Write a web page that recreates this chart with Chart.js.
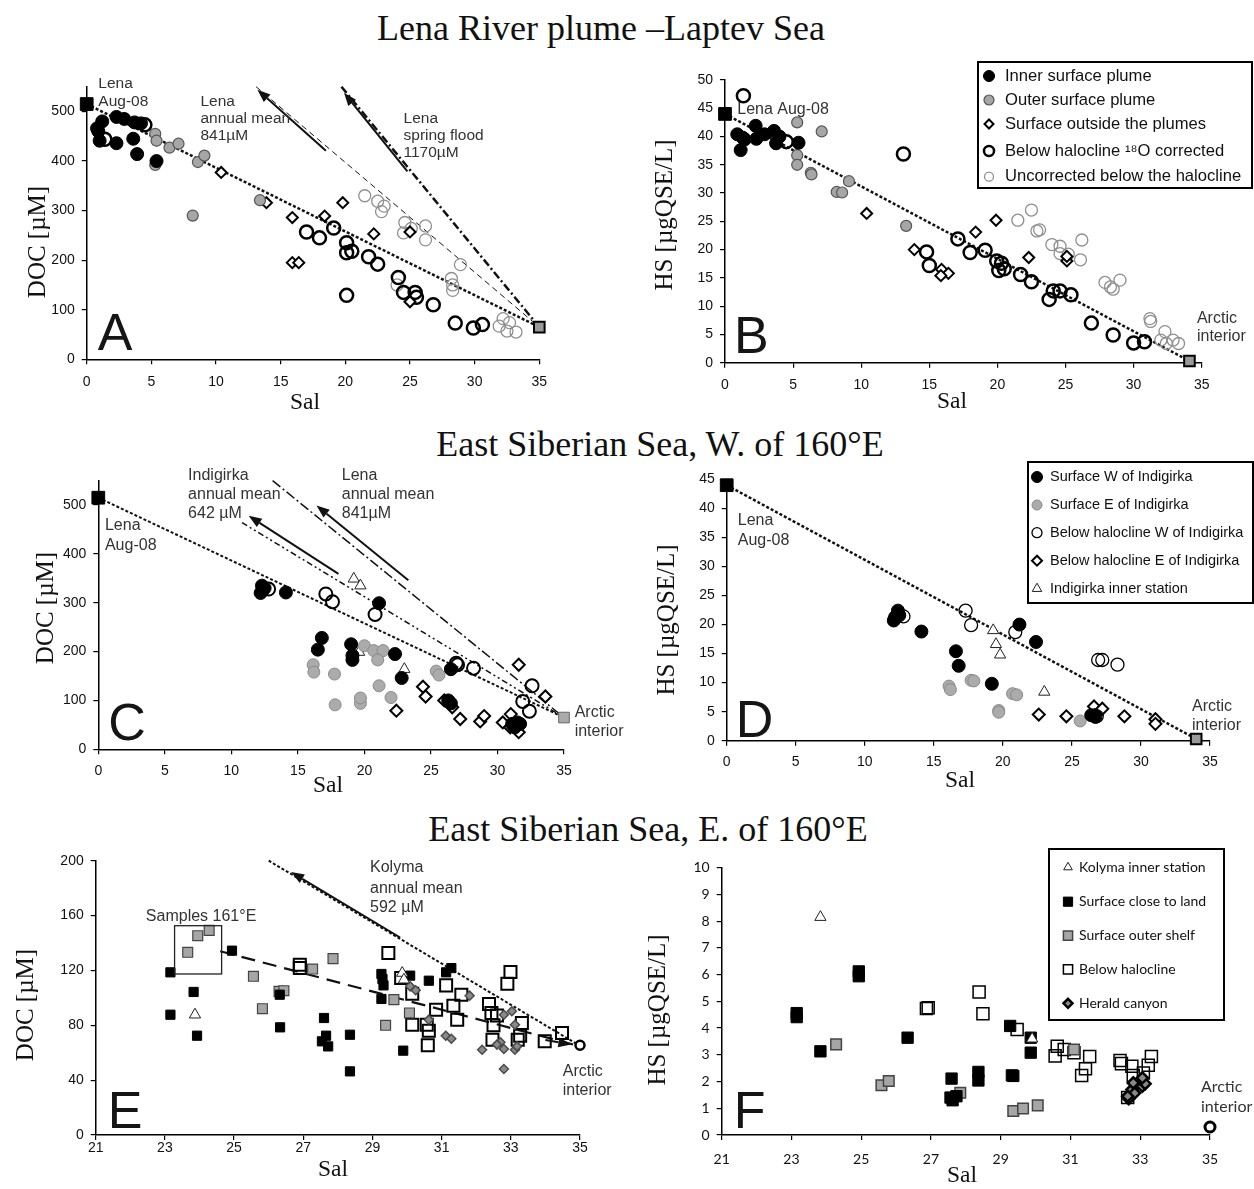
<!DOCTYPE html>
<html>
<head>
<meta charset="utf-8">
<title>DOC and HS vs salinity</title>
<script src="https://cdn.jsdelivr.net/npm/chart.js@4/dist/chart.umd.min.js"></script>
<style>
  body { margin: 0; background: #fff; width: 1254px; height: 1189px; position: relative; overflow: hidden; }
  .ttl { position: absolute; font-family: "Liberation Serif", "Times New Roman", serif; font-size: 36px; line-height: 1;
         color: #111; white-space: nowrap; transform: translate(-50%, -50%); }
  canvas { position: absolute; }
</style>
</head>
<body>
<div class="ttl" style="left:601px; top:28px">Lena River plume –Laptev Sea</div>
<div class="ttl" style="left:660px; top:444px">East Siberian Sea, W. of 160°E</div>
<div class="ttl" style="left:648px; top:829px">East Siberian Sea, E. of 160°E</div>
<canvas id="cA"></canvas>
<canvas id="cB"></canvas>
<canvas id="cC"></canvas>
<canvas id="cD"></canvas>
<canvas id="cE"></canvas>
<canvas id="cF"></canvas>
<script>
// ---- Panel A: DOC vs Sal, Lena plume ----
const aInner = [[0.8,466],[1.2,480],[1.0,441],[2.3,489],[2.9,485],[3.7,478],[4.2,476],[2.3,436],[3.6,445],[3.9,414],[5.4,400],[0.9,460]];
const aOuter = [[5.3,455],[5.4,441],[6.4,427],[7.1,435],[8.6,398],[9.1,411],[8.2,290],[13.4,321],[5.3,392]];
const aOutside = [[10.4,377],[13.9,316],[15.9,286],[18.4,289],[19.8,316],[22.2,253],[15.9,195],[16.4,195],[25.0,257],[25.0,116]];
const aBelow = [[1.4,444],[4.5,473],[17.0,257],[18.0,245],[19.1,265],[20.1,235],[20.1,215],[20.5,218],[21.8,207],[22.5,192],[20.1,129],
                [24.1,165],[24.5,135],[25.4,135],[25.5,125],[26.8,110],[28.5,73],[29.9,63],[30.6,70]];
const aUncorr = [[21.5,330],[22.5,319],[23.0,309],[22.8,298],[24.6,276],[24.5,255],[25.1,264],[26.2,269],[26.2,241],[28.9,191],[28.2,163],
                 [28.3,150],[28.3,139],[24.0,150],[31.9,67],[32.2,82],[32.7,74],[32.5,57],[33.2,55]];
const aLena = [[0,515]];
const aArctic = [[35,65]];
const aMix = [[0,515],[35,65]];
const aAnnual = [[13.1,550],[35,65]];
const aSpring = [[19.7,550],[35,65]];

// ---- Panel B: HS vs Sal, Lena plume ----
const bInner = [[0.9,40.4],[1.15,37.6],[1.45,39.5],[2.25,41.9],[2.3,39.6],[2.9,40.4],[3.6,41.0],[3.75,38.8],[4.0,40.0],[5.4,38.9],[1.3,39.8]];
const bOuter = [[5.3,42.5],[7.1,40.9],[5.3,36.7],[5.3,35.0],[6.3,33.6],[6.35,33.3],[9.1,32.1],[8.2,30.2],[8.6,30.1],[13.3,24.2]];
const bOutside = [[10.4,26.4],[13.9,20.0],[15.9,16.5],[16.4,15.8],[15.85,15.4],[18.4,23.1],[19.9,25.2],[22.3,18.6],[25.1,18.0],[25.1,18.8]];
const bBelow = [[1.35,47.2],[4.5,39.1],[13.1,36.9],[14.8,19.6],[15.0,17.2],[17.1,21.9],[18.0,19.5],[19.1,19.9],[19.95,18.0],[20.3,17.6],
                [20.1,16.3],[20.5,16.6],[21.7,15.6],[22.5,14.3],[23.8,11.2],[24.1,12.7],[24.6,12.7],[25.4,12.0],[26.9,7.0],[28.5,4.9],[30.0,3.5],[30.8,3.7]];
const bUncorr = [[21.5,25.2],[22.5,27.0],[22.9,23.3],[23.1,23.5],[24.0,20.9],[24.6,20.6],[24.6,19.3],[25.2,19.2],[26.2,21.7],[26.1,18.2],
                 [27.9,14.2],[28.3,13.4],[28.5,13.0],[29.0,14.6],[31.2,7.8],[31.25,7.3],[32.3,5.5],[32.0,4.0],[32.9,4.0],[33.3,3.4],[32.4,3.4]];
const bLena = [[0,44]];
const bArctic = [[34.1,0.3]];
const bMix = [[0,44],[34.1,0.3]];

// ---- Panel C: DOC vs Sal, ESS west of 160E ----
const cSurfW = [[12.3,335],[12.35,325],[12.5,330],[12.2,320],[14.1,321],[16.8,228],[16.5,204],[19.0,215],[19.1,192],[19.1,183],[21.1,299],
                [22.3,195],[22.8,146],[26.5,164],[26.3,100],[26.5,94],[31.5,55],[31.7,52],[31.3,45],[31.1,52]];
const cSurfE = [[16.15,173],[16.2,158],[17.75,154],[17.8,91],[19.7,94],[19.7,105],[20.0,212],[20.7,202],[21.4,202],[21.0,183],[21.1,130],
                [22.0,106],[25.4,160],[25.6,152]];
const cBelowW = [[12.8,328],[17.1,318],[17.6,302],[20.8,276],[26.9,176],[27.0,173],[28.2,166],[31.9,98],[32.4,78],[32.6,130]];
const cBelowE = [[31.6,173],[33.6,108],[24.4,128],[24.6,108],[22.4,79],[26.0,100],[26.6,86],[27.2,62],[28.7,57],[29.0,68],[30.4,55],
                 [31.0,72],[31.6,35],[30.95,45]];
const cInner = [[19.2,349],[19.7,335],[19.6,199],[23.0,164]];
const cLena = [[0,515]];
const cArctic = [[35,65]];
const cMix = [[0,515],[35,65]];
const cIndig = [[10.8,464],[35,65]];
const cAnnual = [[13.1,550],[35,65]];

// ---- Panel D: HS vs Sal, ESS west of 160E ----
const dSurfW = [[12.1,20.7],[12.2,21.3],[12.4,22.4],[12.5,21.6],[14.1,18.8],[16.6,15.4],[16.8,12.9],[19.2,9.8],[21.2,20.0],[22.4,17.0],[26.4,4.4],[26.7,4.1]];
const dSurfE = [[16.1,9.4],[16.2,8.8],[17.7,10.4],[17.9,10.3],[19.7,5.2],[19.7,4.9],[20.7,8.1],[21.0,7.9],[25.6,3.4]];
const dBelowW = [[12.8,21.4],[17.3,22.4],[17.7,19.9],[20.9,18.7],[26.9,13.9],[27.2,13.9],[28.3,13.1],[26.8,4.2]];
const dBelowE = [[22.6,4.5],[24.6,4.2],[26.6,5.9],[27.2,5.5],[28.8,4.2],[31.05,3.7],[31.05,2.9],[26.65,4.4]];
const dInner = [[19.3,19.0],[19.5,16.6],[19.8,14.8],[23.0,8.4]];
const dLena = [[0,44]];
const dArctic = [[34,0.3]];
const dMix = [[0,44],[34,0.3]];

// ---- Panel E: DOC vs Sal, ESS east of 160E ----
const eLand = [[23.16,118.6],[23.16,87.7],[23.83,104.3],[23.93,72.4],[24.94,134.4],[26.32,102.3],[26.33,78.5],[27.6,85.3],[27.66,72.4],
               [27.54,68.3],[27.72,64.6],[28.35,73.1],[28.35,46.4],[29.26,117.4],[29.29,113.7],[29.32,109.1],[29.26,99.2],[29.89,61.5],
               [30.09,116.2],[30.63,112.5],[31.13,118.6],[31.28,121.7]];
const eShelf = [[23.66,133.2],[23.95,145.3],[24.28,149.2],[25.56,115.7],[25.82,92.1],[26.3,104.7],[26.44,105.2],[27.27,121],[27.86,128.6],
                [29.38,80],[29.62,98.7],[30.07,89]];
const eBelow = [[26.9,124.2],[26.9,121.7],[29.46,132.7],[29.83,114.5],[30.15,103],[30.15,80.4],[30.63,76],[30.57,80.4],[30.6,65.4],
                [30.84,91.4],[31.13,109.1],[31.34,94.3],[31.45,84.1],[31.57,102.3],[32.37,95.5],[32.44,88.9],[32.5,80],[32.47,69.5],
                [32.6,87.2],[32.9,110.3],[32.99,118.8],[33.2,69.5],[33.32,81.7],[33.27,72.4],[33.98,68.3],[34.48,74.4]];
const eHerald = [[30.09,108.4],[30.25,105.5],[30.63,84.1],[31.12,72.4],[31.28,70.2],[31.81,101.6],[32.17,62.2],[32.7,67.6],[32.8,62.7],
                 [32.8,87.7],[32.8,48.1],[33.03,90.2],[33.12,80.4],[33.12,62.2],[33.18,64.6],[32.6,65.9]];
const eInner = [[23.87,87.7],[29.86,118.1],[29.91,113.2]];
const eArctic = [[35,65.4]];
const eKolyma = [[26.0,200],[35,65]];
const eTrend = [[24.6,134],[34.8,66]];

// ---- Panel F: HS vs Sal, ESS east of 160E ----
const fInner = [[23.83,8.15],[29.9,3.6]];
const fLand = [[23.15,4.56],[23.15,4.41],[23.83,3.13],[24.93,6.12],[24.93,5.94],[26.33,3.64],[27.59,2.11],[27.56,1.40],[27.62,1.30],
               [27.73,1.45],[28.36,2.36],[28.36,2.04],[29.27,4.08],[29.32,2.23],[29.36,2.21],[29.86,3.64],[29.86,3.08]];
const fShelf = [[24.28,3.39],[25.58,1.86],[25.79,2.02],[27.84,1.58],[29.36,0.9],[29.64,0.99],[30.06,1.11],[31.1,3.2]];
const fBelow = [[26.87,4.73],[26.92,4.76],[28.38,5.35],[28.49,4.54],[29.47,3.95],[30.56,2.96],[30.62,3.32],[30.82,3.2],[31.1,3.08],
                [31.32,2.23],[31.43,2.48],[31.55,2.94],[32.42,2.79],[32.46,2.67],[32.76,2.57],[32.8,2.23],[33.09,2.32],[33.23,2.61],
                [33.32,2.94],[32.64,1.40]];
const fHerald = [[32.67,1.36],[32.76,1.7],[32.8,1.95],[33.06,1.82],[33.14,1.92],[33.06,2.14],[32.84,1.57],[32.64,1.45]];
const fArctic = [[35,0.3]];

// ---- helpers ----
const SANS = "'Liberation Sans', Arial, sans-serif";
const SERIF = "'Liberation Serif', 'Times New Roman', serif";
const LATO = "Lato, 'Liberation Sans', sans-serif";
const NONE = 'rgba(255,255,255,0)';

function P(arr) { return arr.map(p => ({x: p[0], y: p[1]})); }
function marks(arr, st) {
  return {data: P(arr), showLine: false, clip: false, pointStyle: st.s, pointRadius: st.r,
          pointBackgroundColor: st.bg, pointBorderColor: st.bc, pointBorderWidth: st.bw};
}
function mix(arr, w, dash) {
  return {data: P(arr), showLine: true, pointRadius: 0, borderColor: '#111', borderWidth: w,
          borderDash: dash, clip: false, fill: false};
}

function marker(ctx, st, x, y, r) {
  ctx.save();
  ctx.beginPath();
  if (st.s === 'circle') ctx.arc(x, y, r, 0, Math.PI * 2);
  else if (st.s === 'rect') { const h = r * Math.SQRT1_2; ctx.rect(x - h, y - h, 2 * h, 2 * h); }
  else if (st.s === 'rectRot') { ctx.moveTo(x, y - r); ctx.lineTo(x + r, y); ctx.lineTo(x, y + r); ctx.lineTo(x - r, y); ctx.closePath(); }
  else { ctx.moveTo(x, y - r); ctx.lineTo(x + r * 0.866, y + r * 0.5); ctx.lineTo(x - r * 0.866, y + r * 0.5); ctx.closePath(); }
  ctx.fillStyle = st.bg; ctx.fill();
  ctx.lineWidth = st.bw; ctx.strokeStyle = st.bc; ctx.stroke();
  ctx.restore();
}

function arrow(ctx, x0, y0, x1, y1, w) {
  const ang = Math.atan2(y1 - y0, x1 - x0), L = 13, H = 5;
  const bx = x1 - L * Math.cos(ang), by = y1 - L * Math.sin(ang);
  ctx.strokeStyle = '#111'; ctx.fillStyle = '#111'; ctx.lineWidth = w; ctx.setLineDash([]);
  ctx.beginPath(); ctx.moveTo(x0, y0); ctx.lineTo(bx, by); ctx.stroke();
  ctx.beginPath(); ctx.moveTo(x1, y1);
  ctx.lineTo(bx + H * Math.sin(ang), by - H * Math.cos(ang));
  ctx.lineTo(bx - H * Math.sin(ang), by + H * Math.cos(ang));
  ctx.closePath(); ctx.fill();
}

// axis titles, texts, arrows, the panel letter and the boxed legend
function annot(a, geo) {
  return {
    id: 'annot',
    afterDraw(chart) {
      const ctx = chart.ctx, X = chart.scales.x, Y = chart.scales.y, ca = chart.chartArea;
      const px = v => X.getPixelForValue(v), py = v => Y.getPixelForValue(v);
      ctx.save();
      ctx.fillStyle = '#111'; ctx.textAlign = 'center'; ctx.textBaseline = 'middle';
      ctx.font = "23.5px " + SERIF;
      ctx.fillText('Sal', geo.xt[0] - geo.l, geo.xt[1] - geo.t);
      ctx.save();
      ctx.translate(geo.yt[0] - geo.l, geo.yt[1] - geo.t);
      ctx.rotate(-Math.PI / 2);
      ctx.font = "25px " + SERIF;
      ctx.fillText(a.yTitle, 0, 0);
      ctx.restore();
      (a.rects || []).forEach(r => {
        ctx.strokeStyle = '#222'; ctx.lineWidth = 1.3;
        ctx.strokeRect(px(r[0]), py(r[3]), px(r[2]) - px(r[0]), py(r[1]) - py(r[3]));
      });
      (a.arrows || []).forEach(ar => arrow(ctx, px(ar[0][0]), py(ar[0][1]), px(ar[1][0]), py(ar[1][1]), ar[2] || 2));
      ctx.fillStyle = '#333'; ctx.textBaseline = 'middle'; ctx.textAlign = 'left';
      ctx.font = a.font;
      (a.texts || []).forEach(t => ctx.fillText(t[0], px(t[1]), py(t[2])));
      ctx.fillStyle = '#151515'; ctx.textBaseline = 'alphabetic';
      ctx.font = "52px " + SANS;
      ctx.fillText(a.letter, ca.left + a.ld[0], ca.bottom - a.ld[1]);
      const L = a.legend;
      if (L) {
        const ox = geo.l, oy = geo.t;
        ctx.fillStyle = '#fff';
        ctx.fillRect(L.box[0] - ox, L.box[1] - oy, L.box[2] - L.box[0], L.box[3] - L.box[1]);
        ctx.strokeStyle = '#000'; ctx.lineWidth = 2;
        ctx.strokeRect(L.box[0] - ox, L.box[1] - oy, L.box[2] - L.box[0], L.box[3] - L.box[1]);
        ctx.font = L.font; ctx.textBaseline = 'middle';
        L.items.forEach((it, i) => {
          const yy = L.rows[i] - oy;
          marker(ctx, it[1], L.mx - ox, yy, it[2]);
          ctx.fillStyle = '#111';
          ctx.fillText(it[0], L.tx - ox, yy);
        });
      }
      ctx.restore();
    }
  };
}

function build(id, geo, ax, datasets, ann) {
  const cv = document.getElementById(id);
  cv.width = geo.w; cv.height = geo.h;
  cv.style.left = geo.l + 'px'; cv.style.top = geo.t + 'px';
  cv.style.width = geo.w + 'px'; cv.style.height = geo.h + 'px';
  const yw = geo.cl - geo.l, padR = geo.l + geo.w - geo.cr, padT = geo.ct - geo.t, xh = geo.t + geo.h - geo.cb;
  const tf = ax.font || SANS;
  ann.yTitle = ax.yTitle;
  return new Chart(cv, {
    type: 'scatter',
    data: {datasets: datasets},
    options: {
      responsive: false, animation: false, devicePixelRatio: 1, events: [],
      layout: {padding: {left: 0, right: padR, top: padT, bottom: 0}},
      plugins: {legend: {display: false}, tooltip: {enabled: false}},
      scales: {
        x: {
          type: 'linear', min: ax.x[0], max: ax.x[1],
          ticks: {stepSize: ax.x[2], includeBounds: false, autoSkip: false, maxRotation: 0, padding: geo.xp,
                  color: '#111', font: {family: tf, size: 14}},
          grid: {drawOnChartArea: false, tickLength: 5, color: '#000', lineWidth: 1.2},
          border: {color: '#000', width: 1.5},
          title: {display: false},
          afterFit: s => { s.height = xh; }
        },
        y: {
          type: 'linear', min: ax.y[0], max: ax.y[1],
          ticks: {stepSize: ax.y[2], includeBounds: false, autoSkip: false, padding: 7,
                  color: '#111', font: {family: tf, size: 14}},
          grid: {drawOnChartArea: false, tickLength: 5, color: '#000', lineWidth: 1.2},
          border: {color: '#000', width: 1.5},
          title: {display: false},
          afterFit: s => { s.width = yw; }
        }
      }
    },
    plugins: [annot(ann, geo)]
  });
}

// ---- marker styles ----
const stBlack = {s: 'circle', r: 6.5, bg: '#000', bc: '#000', bw: 1};
const stGrey = {s: 'circle', r: 5.5, bg: '#a6a6a6', bc: '#555', bw: 1.2};
const stDiam = {s: 'rectRot', r: 5.5, bg: '#fff', bc: '#000', bw: 2};
const stOpen = {s: 'circle', r: 6.5, bg: NONE, bc: '#000', bw: 2.5};
const stThin = {s: 'circle', r: 6, bg: NONE, bc: '#8f8f8f', bw: 1.3};
const stLena = {s: 'rect', r: 9, bg: '#000', bc: '#000', bw: 1};
const stArc = {s: 'rect', r: 7.5, bg: '#999', bc: '#000', bw: 2};

const stGreyC = {s: 'circle', r: 6, bg: '#ababab', bc: '#8a8a8a', bw: 1};
const stOpenC = {s: 'circle', r: 6.5, bg: NONE, bc: '#000', bw: 2};
const stDiamC = {s: 'rectRot', r: 6, bg: '#fff', bc: '#000', bw: 2};
const stTri = {s: 'triangle', r: 6.5, bg: '#fff', bc: '#222', bw: 1};
const stArcC = {s: 'rect', r: 7.5, bg: '#aaa', bc: '#666', bw: 1};
const stOpenD = {s: 'circle', r: 6.5, bg: NONE, bc: '#000', bw: 1.3};

const stSqBlk = {s: 'rect', r: 6.5, bg: '#000', bc: '#000', bw: 1};
const stSqGry = {s: 'rect', r: 7, bg: '#a6a6a6', bc: '#444', bw: 1.2};
const stSqOpn = {s: 'rect', r: 8.5, bg: NONE, bc: '#000', bw: 2};
const stHerald = {s: 'rectRot', r: 4.5, bg: '#8a8a8a', bc: '#4a4a4a', bw: 1.5};
const stArcE = {s: 'circle', r: 4.5, bg: '#fff', bc: '#000', bw: 2.5};

const stSqBlkF = {s: 'rect', r: 8, bg: '#000', bc: '#000', bw: 1};
const stSqGryF = {s: 'rect', r: 7.5, bg: '#a6a6a6', bc: '#444', bw: 1.5};
const stSqOpnF = {s: 'rect', r: 8.5, bg: NONE, bc: '#000', bw: 1.5};
const stHeraldF = {s: 'rectRot', r: 5.5, bg: '#888', bc: '#000', bw: 2.5};
const stArcF = {s: 'circle', r: 5, bg: '#fff', bc: '#000', bw: 3};

const TXT = "16px " + SANS;

// ---- A ----
build('cA', {l: 0, t: 55, w: 625, h: 375, cl: 86.7, cr: 539.3, ct: 86.7, cb: 359.3, xp: 9, xt: [305, 403], yt: [38, 242]},
  {x: [0, 35, 5], y: [0, 550, 100], yTitle: 'DOC [µM]'},
  [marks(aLena, stLena), marks(aArctic, stArc), marks(aInner, stBlack), marks(aOuter, stGrey), marks(aOutside, stDiam),
   marks(aBelow, stOpen), marks(aUncorr, stThin),
   mix(aMix, 2.5, [3, 2]), mix(aAnnual, 1, [6, 4]), mix(aSpring, 2.5, [8, 3, 2, 3])],
  {font: "15.5px " + SANS, letter: 'A', ld: [11, 9],
   texts: [['Lena', 0.9, 556], ['Aug-08', 0.9, 520], ['Lena', 8.8, 520], ['annual mean', 8.8, 486], ['841µM', 8.8, 451],
           ['Lena', 24.5, 486], ['spring flood', 24.5, 451], ['1170µM', 24.5, 416]],
   arrows: [[[18.5, 421], [13.2, 544]], [[24.8, 379], [19.9, 538]]]});

// ---- B ----
build('cB', {l: 640, t: 55, w: 614, h: 375, cl: 725, cr: 1201.7, ct: 80, cb: 362.7, xp: 9, xt: [952, 402], yt: [665, 215]},
  {x: [0, 35, 5], y: [0, 50, 5], yTitle: 'HS [µgQSE/L]'},
  [marks(bLena, stLena), marks(bArctic, stArc), marks(bInner, stBlack), marks(bOuter, stGrey), marks(bOutside, stDiam),
   marks(bBelow, stOpen), marks(bUncorr, stThin), mix(bMix, 2.5, [3, 2])],
  {font: TXT, letter: 'B', ld: [9, 10],
   texts: [['Lena Aug-08', 0.9, 44.8], ['Arctic', 34.65, 7.8], ['interior', 34.65, 4.7]],
   legend: {box: [978, 62, 1252, 188], rows: [76, 100, 124, 151, 176.7], mx: 989, tx: 1005, font: "16.6px " + SANS,
            items: [['Inner surface plume', stBlack, 5.5], ['Outer surface plume', stGrey, 5], ['Surface outside the plumes', stDiam, 4.5],
                    ['Below halocline ¹⁸O corrected', stOpen, 5], ['Uncorrected below the halocline', stThin, 4.5]]}});

// ---- C ----
build('cC', {l: 0, t: 440, w: 625, h: 370, cl: 98.3, cr: 564, ct: 480.6, cb: 749.3, xp: 8, xt: [328, 786], yt: [46, 608]},
  {x: [0, 35, 5], y: [0, 550, 100], yTitle: 'DOC [µM]'},
  [marks(cLena, stLena), marks(cArctic, stArcC), marks(cSurfW, stBlack), marks(cSurfE, stGreyC), marks(cBelowW, stOpenC),
   marks(cBelowE, stDiamC), marks(cInner, stTri),
   mix(cMix, 2, [3, 2]), mix(cIndig, 1.5, [6, 3, 2, 3, 2, 3]), mix(cAnnual, 1.5, [10, 3, 2, 3])],
  {font: TXT, letter: 'C', ld: [10, 9],
   texts: [['Indigirka', 6.75, 560], ['annual mean', 6.75, 522], ['642 µM', 6.75, 483], ['Lena', 18.3, 560], ['annual mean', 18.3, 522],
           ['841µM', 18.3, 483], ['Lena', 0.5, 458], ['Aug-08', 0.5, 417], ['Arctic', 35.8, 76], ['interior', 35.8, 37]],
   arrows: [[[18.05, 359], [11.3, 478]], [[23.3, 346], [16.4, 499]]]});

// ---- D ----
build('cD', {l: 640, t: 440, w: 614, h: 370, cl: 726.7, cr: 1210, ct: 479.4, cb: 740.7, xp: 8, xt: [960, 781], yt: [667, 620]},
  {x: [0, 35, 5], y: [0, 45, 5], yTitle: 'HS [µgQSE/L]'},
  [marks(dLena, stLena), marks(dArctic, stArc), marks(dSurfW, stBlack), marks(dSurfE, stGreyC), marks(dBelowW, stOpenD),
   marks(dBelowE, stDiamC), marks(dInner, stTri), mix(dMix, 2.5, [3, 2])],
  {font: TXT, letter: 'D', ld: [9, 4],
   texts: [['Lena', 0.8, 37.9], ['Aug-08', 0.8, 34.5], ['Arctic', 33.7, 5.8], ['interior', 33.7, 2.6]],
   legend: {box: [1028, 462, 1253, 603], rows: [477, 505, 532.7, 560.7, 588.7], mx: 1037, tx: 1050, font: "14.5px " + SANS,
            items: [['Surface W of Indigirka', stBlack, 5.5], ['Surface E of Indigirka', stGreyC, 5], ['Below halocline W of Indigirka', stOpenD, 5],
                    ['Below halocline E of Indigirka', stDiamC, 5], ['Indigirka inner station', stTri, 5.5]]}});

// ---- E ----
build('cE', {l: 0, t: 830, w: 625, h: 359, cl: 95.7, cr: 580, ct: 860.7, cb: 1135, xp: 0, xt: [333, 1170], yt: [26, 1005]},
  {x: [21, 35, 2], y: [0, 200, 40], yTitle: 'DOC [µM]'},
  [marks(eArctic, stArcE), marks(eInner, stTri), marks(eHerald, stHerald), marks(eLand, stSqBlk), marks(eShelf, stSqGry),
   marks(eBelow, stSqOpn), mix(eKolyma, 2, [3, 2]), mix(eTrend, 2.2, [14, 8])],
  {font: TXT, letter: 'E', ld: [12, 7],
   texts: [['Kolyma', 28.93, 194.7], ['annual mean', 28.93, 180], ['592 µM', 28.93, 166], ['Samples 161°E', 22.45, 159.4],
           ['Arctic', 34.5, 46], ['interior', 34.5, 32.6]],
   rects: [[23.28, 117.4, 24.64, 152.6]],
   arrows: [[[29.8, 144], [26.65, 191.7]], [[34.0, 69.2], [34.75, 66]]]});

// ---- F ----
build('cF', {l: 640, t: 830, w: 614, h: 359, cl: 721.7, cr: 1210, ct: 867.7, cb: 1135, xp: 11, xt: [962, 1176], yt: [658, 1010]},
  {x: [21, 35, 2], y: [0, 10, 1], yTitle: 'HS [µgQSE/L]', font: LATO},
  [marks(fArctic, stArcF), marks(fInner, stTri), marks(fHerald, stHeraldF), marks(fLand, stSqBlkF), marks(fShelf, stSqGryF),
   marks(fBelow, stSqOpnF)],
  {font: "16px " + LATO, letter: 'F', ld: [12, 7],
   texts: [['Arctic', 34.74, 1.8], ['interior', 34.74, 1.05]],
   legend: {box: [1049, 849, 1224, 1020], rows: [867.3, 901.7, 935.7, 969.3, 1003.3], mx: 1068, tx: 1079, font: "14px " + LATO,
            items: [['Kolyma inner station', stTri, 5], ['Surface close to land', stSqBlkF, 6.5], ['Surface outer shelf', stSqGryF, 6.5],
                    ['Below halocline', stSqOpnF, 6.5], ['Herald canyon', stHeraldF, 4.5]]}});
</script>
</body>
</html>
